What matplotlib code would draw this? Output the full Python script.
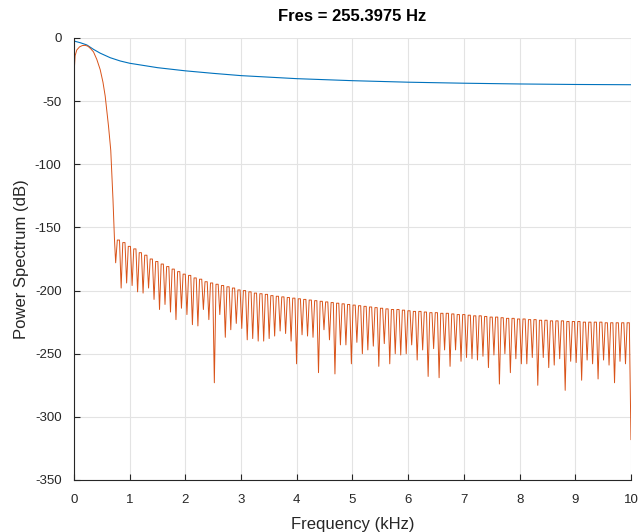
import numpy as np
import matplotlib
matplotlib.use("Agg")
import matplotlib.pyplot as plt

# blue curve (kHz, dB)
blue_f = [0, 0.11, 0.23, 0.35, 0.47, 0.65, 0.83, 1.0, 1.5, 2.0, 2.5, 3.0, 3.5,
          4.0, 5.0, 6.0, 7.0, 8.0, 9.0, 10.0]
blue_db = [-2.4, -3.7, -5.5, -9.0, -12.0, -15.6, -18.2, -20.0, -23.5, -26.0,
           -28.0, -29.8, -31.0, -32.2, -33.8, -35.0, -35.8, -36.4, -36.8, -37.0]

# orange main lobe (kHz, dB)
lobe_f = [0, 0.005, 0.02, 0.05, 0.1, 0.15, 0.2, 0.25, 0.3, 0.35, 0.41, 0.47,
          0.52, 0.56, 0.62, 0.66, 0.70, 0.727]
lobe_db = [-230, -25, -14, -9.5, -7, -6, -5.8, -6.5, -8.5, -11, -17, -25,
           -35, -46, -70, -89, -128, -160]

# sidelobes: first null and spacing of the nulls (kHz)
null_start = 0.748
null_step = 0.09842

null_db = [-178,
           -198, -194, -196, -201, -202, -198, -207, -215, -211, -217,
           -223, -214, -219, -227, -228, -215, -223,
           -273,
           -219, -237, -231, -226, -230, -239, -238, -240, -240, -238,
           -236, -232, -234, -240,
           -258,
           -235, -236, -237, -265, -231, -239, -266,
           -243, -243, -258, -241, -250, -247, -244, -260, -242, -258,
           -250, -251, -250, -243, -255, -247, -268, -246, -269, -247,
           -260, -247, -256, -253, -254, -255, -252, -261,
           -251, -274, -250, -265, -254, -258, -258, -253, -275, -253,
           -261, -259, -254, -279, -256, -257, -271, -255, -258, -270,
           -255, -259, -273, -256, -258, -318]

peak_db = [-160, -162, -165,
           -167, -170, -172, -175, -177,
           -179, -181, -183, -185, -187,
           -188, -190, -191, -193, -194,
           -195, -196, -197, -198, -199.5,
           -200, -201, -202, -202.5, -203,
           -204, -204.5, -205, -205.5, -206,
           -206.5, -207, -207.5, -208, -208.5,
           -209, -209.5, -210, -210.5, -211,
           -211.5, -212, -212.5, -213, -213.5,
           -214, -214.5, -215, -215, -215.5,
           -216, -216.5, -216.5, -217, -217.5,
           -217.5, -218, -218, -218.5, -219,
           -219, -219.5, -220, -220, -220.5,
           -221, -221, -221.5, -222, -222,
           -222.5, -222.5, -223, -223, -223.5,
           -223.5, -224, -224, -224, -224.5,
           -224.5, -224.5, -225, -225, -225,
           -225, -225.5, -225.5, -225.5, -225.5, -225.5]

n_null = len(null_db)
null_f = null_start + null_step * np.arange(n_null)
peak_f = null_f[:-1] + null_step / 2

# each lobe: null, rounded top (peak value held over a short span), next null
side_f, side_db = [null_f[0]], [null_db[0]]
for k in range(n_null - 1):
    side_f += [peak_f[k] - 0.2 * null_step, peak_f[k] + 0.2 * null_step, null_f[k + 1]]
    side_db += [peak_db[k], peak_db[k], null_db[k + 1]]

orange_f = np.concatenate([lobe_f, side_f])
orange_db = np.concatenate([lobe_db, side_db])

plt.rcParams['font.family'] = ['Liberation Sans', 'DejaVu Sans']
plt.rcParams['axes.unicode_minus'] = False

fig = plt.figure(figsize=(6.38, 5.32), dpi=100)
ax = fig.add_axes([74/638, 52/532, 557/638, 442/532])

ax.plot(blue_f, blue_db, color='#0072BD', lw=0.8)
ax.plot(orange_f, orange_db, color='#D95319', lw=0.7)

ax.set_xlim(0, 10)
ax.set_ylim(-350, 0)
ax.set_xticks(range(0, 11))
ax.set_yticks(range(-350, 1, 50))
ax.grid(True, color='#e3e3e3', lw=0.8)
ax.set_axisbelow(True)

for s in ['top', 'right']:
    ax.spines[s].set_visible(False)
for s in ['left', 'bottom']:
    ax.spines[s].set_color('#262626')
    ax.spines[s].set_linewidth(0.8)

ax.tick_params(direction='in', length=4, width=0.8, colors='#262626',
               labelsize=9.5, labelcolor='#262626')
ax.tick_params(axis='x', pad=10)
ax.tick_params(axis='y', pad=9)

ax.set_xlabel('Frequency (kHz)', fontsize=12, color='#262626', labelpad=8)
ax.set_ylabel('Power Spectrum (dB)', fontsize=12, color='#262626', labelpad=4)
ax.set_title('Fres = 255.3975 Hz', fontsize=12, fontweight='bold', pad=12)

fig.savefig('out.png', dpi=100)
